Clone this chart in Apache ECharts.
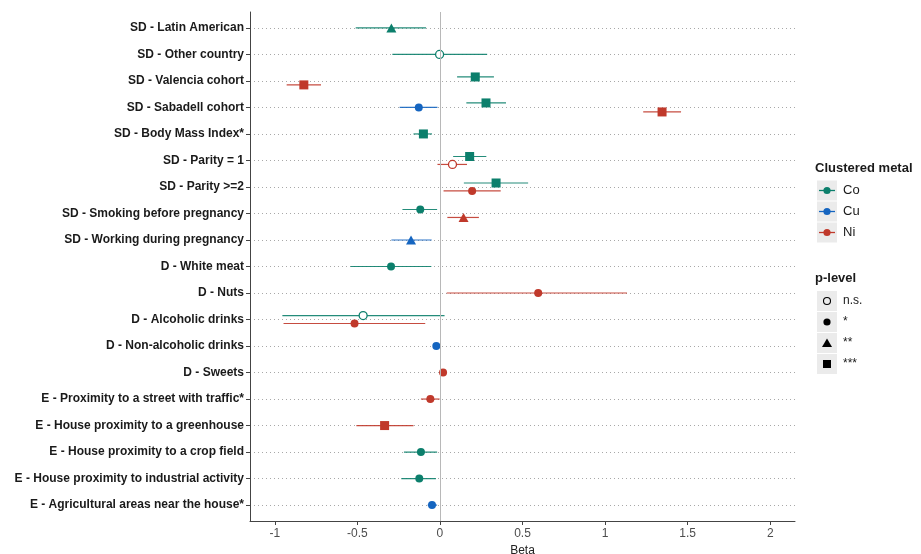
<!DOCTYPE html>
<html>
<head>
<meta charset="utf-8">
<script src="https://cdn.jsdelivr.net/npm/echarts@6/dist/echarts.min.js"></script>
<style>
  html, body { margin: 0; padding: 0; background: #ffffff; }
  #chart { width: 921px; height: 554px; }
</style>
</head>
<body>
<div id="chart"></div>
<script>
const categories = [
  'SD - Latin American',
  'SD - Other country',
  'SD - Valencia cohort',
  'SD - Sabadell cohort',
  'SD - Body Mass Index*',
  'SD - Parity = 1',
  'SD - Parity >=2',
  'SD - Smoking before pregnancy',
  'SD - Working during pregnancy',
  'D - White meat',
  'D - Nuts',
  'D - Alcoholic drinks',
  'D - Non-alcoholic drinks',
  'D - Sweets',
  'E - Proximity to a street with traffic*',
  'E - House proximity to a greenhouse',
  'E - House proximity to a crop field',
  'E - House proximity to industrial activity',
  'E - Agricultural areas near the house*'
];

const xTicks = [-1, -0.5, 0, 0.5, 1, 1.5, 2];

// Co
const coRows = [0, 1, 2, 3, 4, 5, 6, 7, 9, 11, 16, 17];
const coBeta = [-0.294, -0.002, 0.214, 0.279, -0.100, 0.180, 0.340, -0.119, -0.296, -0.465, -0.115, -0.125];
const coLow  = [-0.510, -0.288, 0.104, 0.160, -0.160, 0.080, 0.145, -0.227, -0.541, -0.954, -0.218, -0.234];
const coHigh = [-0.084, 0.286, 0.327, 0.400, -0.048, 0.281, 0.534, -0.017, -0.052, 0.028, -0.017, -0.024];
const coP    = ['**', 'n.s.', '***', '***', '***', '***', '***', '*', '*', 'n.s.', '*', '*'];

// Cu
const cuRows = [3, 8, 12, 18];
const cuBeta = [-0.128, -0.175, -0.022, -0.048];
const cuLow  = [-0.244, -0.294, -0.035, -0.074];
const cuHigh = [-0.015, -0.050, -0.010, -0.017];
const cuP    = ['*', '**', '*', '*'];

// Ni
const niRows = [2, 3, 5, 6, 7, 10, 11, 13, 14, 15];
const niBeta = [-0.824, 1.345, 0.076, 0.195, 0.143, 0.595, -0.517, 0.019, -0.058, -0.335];
const niLow  = [-0.928, 1.231, -0.015, 0.022, 0.045, 0.041, -0.947, 0.008, -0.115, -0.506];
const niHigh = [-0.720, 1.460, 0.164, 0.368, 0.236, 1.133, -0.089, 0.030, -0.002, -0.160];
const niP    = ['***', '***', 'n.s.', '*', '**', '*', '*', '*', '*', '***'];

const metals = ['Co', 'Cu', 'Ni'];
const pLevels = ['n.s.', '*', '**', '***'];

// ---- styling / construction ----
const colors = { Co: '#0c7f6c', Cu: '#1565c0', Ni: '#c0392b' };
const FONT = '"Liberation Sans", Arial, sans-serif';
const metalData = {
  Co: { rows: coRows, beta: coBeta, low: coLow, high: coHigh, p: coP },
  Cu: { rows: cuRows, beta: cuBeta, low: cuLow, high: cuHigh, p: cuP },
  Ni: { rows: niRows, beta: niBeta, low: niLow, high: niHigh, p: niP }
};

// dodge: metals present per row
const rowMetals = {};
metals.forEach(m => metalData[m].rows.forEach(r => {
  (rowMetals[r] = rowMetals[r] || []).push(m);
}));
function dodge(row, m) {
  const list = rowMetals[row];
  if (list.length === 1) return 0;
  const order = { Co: -1, Cu: 0, Ni: 1 };
  return order[m] * (list.length === 3 ? 0.17 : 0.15);
}

function symbolFor(p) {
  if (p === '**') return { symbol: 'triangle', size: [10, 9] };
  if (p === '***') return { symbol: 'rect', size: 9 };
  return { symbol: 'circle', size: 8 };
}

const series = [];
// zero reference line
series.push({
  type: 'line', data: [], silent: true, z: 1,
  markLine: {
    silent: true, symbol: 'none', animation: false,
    label: { show: false },
    lineStyle: { color: '#b8b8b8', type: 'solid', width: 1 },
    data: [{ xAxis: 0 }]
  }
});

metals.forEach(m => {
  const d = metalData[m];
  const errData = d.rows.map((r, i) => [d.low[i], d.high[i], r + dodge(r, m)]);
  series.push({
    type: 'custom', name: m + ' CI', z: 2, silent: true,
    data: errData,
    encode: { x: [0, 1], y: 2 },
    renderItem: function (params, api) {
      const a = api.coord([api.value(0), api.value(2)]);
      const b = api.coord([api.value(1), api.value(2)]);
      return {
        type: 'line',
        shape: { x1: a[0], y1: a[1], x2: b[0], y2: b[1] },
        style: { stroke: colors[m], lineWidth: 1.2, opacity: 0.9 }
      };
    }
  });
  const pts = d.rows.map((r, i) => {
    const s = symbolFor(d.p[i]);
    const open = d.p[i] === 'n.s.';
    return {
      value: [d.beta[i], r + dodge(r, m)],
      symbol: s.symbol,
      symbolSize: s.size,
      itemStyle: open
        ? { color: '#ffffff', borderColor: colors[m], borderWidth: 1.3, opacity: 1 }
        : { color: colors[m], borderWidth: 0, opacity: 1 }
    };
  });
  series.push({
    type: 'scatter', name: m, z: 3, data: pts, itemStyle: { opacity: 1 }
  });
});

// legend via graphic
const graphic = [];
const LX = 817, KW = 20, KH = 20, TX = 843;
graphic.push({ type: 'text', x: 815, y: 168,
  style: { text: 'Clustered metal', font: 'bold 13px ' + FONT, fill: '#1a1a1a', textVerticalAlign: 'middle' } });
const metalY = [190.5, 211.5, 232.5];
metals.forEach((m, i) => {
  const cy = metalY[i];
  graphic.push({ type: 'rect', shape: { x: LX, y: cy - KH / 2, width: KW, height: KH }, style: { fill: '#ebebeb' } });
  graphic.push({ type: 'line', shape: { x1: LX + 2, y1: cy, x2: LX + KW - 2, y2: cy }, style: { stroke: colors[m], lineWidth: 1.3 } });
  graphic.push({ type: 'circle', shape: { cx: LX + KW / 2, cy: cy, r: 3.6 }, style: { fill: colors[m] } });
  graphic.push({ type: 'text', x: TX, y: cy, style: { text: m, font: '13px ' + FONT, fill: '#1a1a1a', textVerticalAlign: 'middle' } });
});
graphic.push({ type: 'text', x: 815, y: 278,
  style: { text: 'p-level', font: 'bold 13px ' + FONT, fill: '#1a1a1a', textVerticalAlign: 'middle' } });
const pY = [301, 322, 343, 364];
pLevels.forEach((p, i) => {
  const cy = pY[i];
  const cx = LX + KW / 2;
  graphic.push({ type: 'rect', shape: { x: LX, y: cy - KH / 2, width: KW, height: KH }, style: { fill: '#ebebeb' } });
  if (p === 'n.s.') {
    graphic.push({ type: 'circle', shape: { cx: cx, cy: cy, r: 3.5 }, style: { fill: '#ebebeb', stroke: '#000', lineWidth: 1.1 } });
  } else if (p === '*') {
    graphic.push({ type: 'circle', shape: { cx: cx, cy: cy, r: 3.6 }, style: { fill: '#000' } });
  } else if (p === '**') {
    graphic.push({ type: 'polygon', shape: { points: [[cx, cy - 4.5], [cx + 5, cy + 4], [cx - 5, cy + 4]] }, style: { fill: '#000' } });
  } else {
    graphic.push({ type: 'rect', shape: { x: cx - 4, y: cy - 4, width: 8, height: 8 }, style: { fill: '#000' } });
  }
  graphic.push({ type: 'text', x: TX, y: cy, style: { text: p, font: '12px ' + FONT, fill: '#1a1a1a', textVerticalAlign: 'middle' } });
});

const chart = echarts.init(document.getElementById('chart'), null, { renderer: 'canvas' });
chart.setOption({
  animation: false,
  backgroundColor: '#ffffff',
  grid: { left: 250, right: 126, top: 12, bottom: 33, containLabel: false, outerBoundsMode: 'none' },
  xAxis: {
    type: 'value', min: -1.15, max: 2.15,
    name: 'Beta', nameLocation: 'middle', nameGap: 22,
    nameTextStyle: { fontFamily: FONT, fontSize: 12, color: '#222' },
    axisLine: { show: true, onZero: false, lineStyle: { color: '#444', width: 1 } },
    axisTick: { show: true, length: 4, customValues: xTicks, lineStyle: { color: '#444' } },
    axisLabel: { customValues: xTicks, margin: 7, fontFamily: FONT, fontSize: 12, color: '#4d4d4d',
      formatter: v => String(v) },
    splitLine: { show: false }
  },
  yAxis: {
    type: 'value', inverse: true, min: -0.6, max: 18.6,
    axisLine: { show: true, onZero: false, lineStyle: { color: '#444', width: 1 } },
    axisTick: { show: true, length: 4, customValues: categories.map((c, i) => i), lineStyle: { color: '#444' } },
    axisLabel: { customValues: categories.map((c, i) => i), margin: 6,
      fontFamily: FONT, fontSize: 12, fontWeight: 'bold', color: '#1a1a1a',
      formatter: v => categories[Math.round(v)] },
    splitLine: { show: true, lineStyle: { color: '#a8a8a8', type: [1, 3], width: 1 } }
  },
  graphic: graphic,
  series: series
});
</script>
</body>
</html>
